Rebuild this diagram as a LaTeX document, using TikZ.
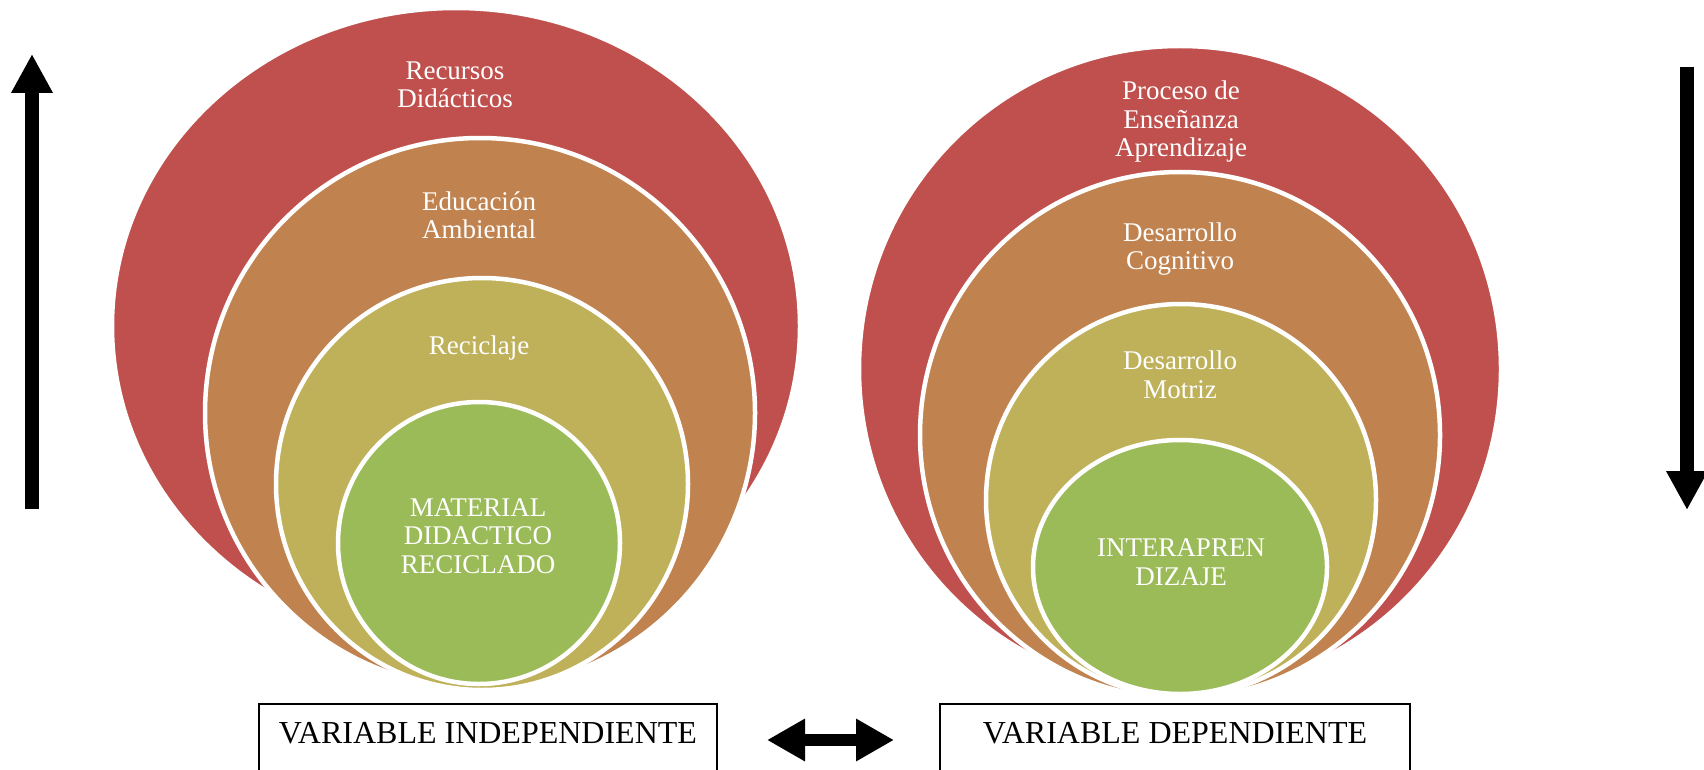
\documentclass[tikz,border=0pt]{standalone}
\usepackage{fontspec}
\setmainfont{Liberation Serif}
\usetikzlibrary{arrows.meta}
\definecolor{ringred}{HTML}{C0504D}
\definecolor{ringorange}{HTML}{C0834F}
\definecolor{ringyellow}{HTML}{BFB159}
\definecolor{ringgreen}{HTML}{9BBB59}
\begin{document}
\begin{tikzpicture}
            [
                x=1pt, y=-1pt,
                ring/.style={draw=white, line width=4.5pt},
                lbl/.style={text=white, align=center, font=\fontsize{27}{28.5}\selectfont},
                varbox/.style={draw=black, line width=2pt, anchor=north, inner sep=0pt, minimum height=72pt, text height=21pt, text depth=14pt, font=\fontsize{32}{33}\selectfont},
                bigarrow/.style={line width=13.5pt, -{Triangle[width=39pt,length=39pt]}},
                dblarrow/.style={line width=12pt, {Triangle[width=40pt,length=38pt]}-{Triangle[width=40pt,length=38pt]}}
            ]
            \useasboundingbox (0,0) rectangle (1704,770);
            \clip (0,0) rectangle (1704,770);
            % independent variable target
            \draw[ring, fill=ringred] (456,326) ellipse [x radius=344pt, y radius=318pt];
            \draw[ring, fill=ringorange] (480,413) circle [radius=275pt];
            \draw[ring, fill=ringyellow] (482,484) circle [radius=206pt];
            \draw[ring, fill=ringgreen] (479,543) circle [radius=141pt];
            \node[lbl] (recursos) at (455,85) {Recursos\\Didácticos};
            \node[lbl] (educacion) at (479,215) {Educación\\Ambiental};
            \node[lbl] (reciclaje) at (479,348) {Reciclaje};
            \node[lbl] (material) at (478,536) {MATERIAL\\DIDACTICO\\RECICLADO};
            % dependent variable target
            \draw[ring, fill=ringred] (1180,369) ellipse [x radius=321pt, y radius=323pt];
            \draw[ring, fill=ringorange] (1180,435) ellipse [x radius=260pt, y radius=263pt];
            \draw[ring, fill=ringyellow] (1181,500) ellipse [x radius=195pt, y radius=196pt];
            \draw[ring, fill=ringgreen] (1180,567) ellipse [x radius=147pt, y radius=127pt];
            \node[lbl] (proceso) at (1181,122) {Proceso de\\Enseñanza\\Aprendizaje};
            \node[lbl] (cognitivo) at (1180,249) {Desarrollo\\Cognitivo};
            \node[lbl] (motriz) at (1180,375) {Desarrollo\\Motriz};
            \node[lbl] (interaprendizaje) at (1181,562) {INTERAPREN\\DIZAJE};
            % variables
            \node[varbox, minimum width=458pt] (indep) at (488,703) {VARIABLE INDEPENDIENTE};
            \node[varbox, minimum width=470pt] (dep) at (1175,703) {VARIABLE DEPENDIENTE};
            \draw[dblarrow, shorten <=49pt, shorten >=45pt] (indep) -- (dep);
            % side arrows
            \draw[bigarrow] (32,509) -- (32,54);
            \draw[bigarrow] (1687,67) -- (1687,510);
        \end{tikzpicture}
\end{document}
